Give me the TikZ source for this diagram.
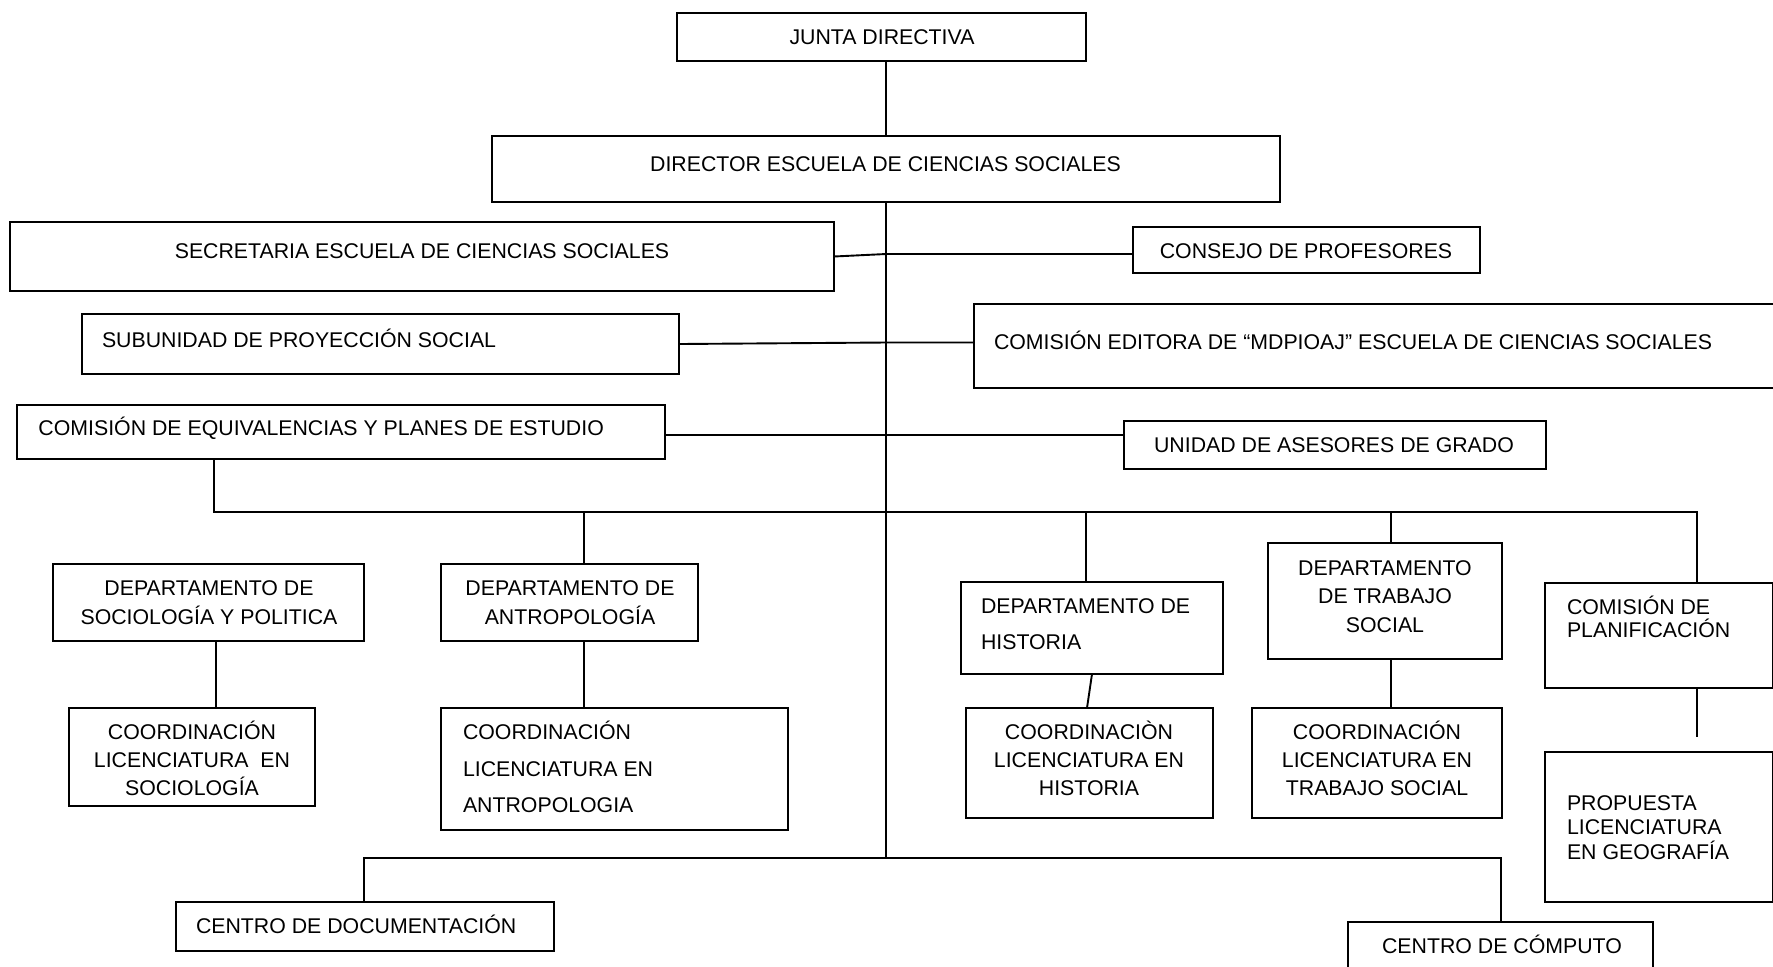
\documentclass[tikz,border=0pt]{standalone}
\usepackage{fontspec}
\setmainfont{Liberation Sans}
\newcommand\orgbox[5]{\node[box, minimum width={(#4-#2)*0.5pt}, minimum height={(#5-#3)*0.5pt}] (#1) at ({(#2+#4)/2},{(#3+#5)/2}) {};}
\newcommand\tline[4]{\node[txt, anchor=#1] (#2) at (#3) {#4};}
\begin{document}
\begin{tikzpicture}[x=0.5pt,y=-0.5pt,
  box/.style={draw=black, line width=1.4pt, inner sep=0pt, outer sep=0pt, fill=none},
  conn/.style={draw=black, line width=0.95pt},
  txt/.style={inner sep=0pt, outer sep=0pt, font=\fontsize{10.65}{12}\selectfont}]
\useasboundingbox (0,0) rectangle (1773,966);

% boxes
\orgbox{junta}{677}{13}{1086}{61}
\orgbox{director}{492}{136}{1280}{202}
\orgbox{secretaria}{10}{222}{834}{291}
\orgbox{consejo}{1133}{227}{1480}{273}
\orgbox{subunidad}{82}{314}{679}{374}
\orgbox{editora}{974}{304}{1810}{388}
\orgbox{equiv}{17}{405}{665}{459}
\orgbox{unidad}{1124}{421}{1546}{469}
\orgbox{dsoc}{53}{564}{364}{641}
\orgbox{dant}{441}{564}{698}{641}
\orgbox{csoc}{69}{708}{315}{806}
\orgbox{cant}{441}{708}{788}{830}
\orgbox{dhis}{961}{582}{1223}{674}
\orgbox{chis}{966}{708}{1213}{818}
\orgbox{dts}{1268}{543}{1502}{659}
\orgbox{cts}{1252}{708}{1502}{818}
\orgbox{cplan}{1545}{583}{1773}{688}
\orgbox{prop}{1545}{752}{1773}{902}
\orgbox{cdoc}{176}{902}{554}{951}
\orgbox{ccomp}{1348}{922}{1653}{1010}

% texts
\tline{base}{tJunta}{882,44}{JUNTA DIRECTIVA}
\tline{base}{tDirector}{885.5,171}{DIRECTOR ESCUELA DE CIENCIAS SOCIALES}
\tline{base}{tSecretaria}{422,258}{SECRETARIA ESCUELA DE CIENCIAS SOCIALES}
\tline{base}{tConsejo}{1306,258}{CONSEJO DE PROFESORES}
\tline{base west}{tSubunidad}{102,347}{SUBUNIDAD DE PROYECCIÓN SOCIAL}
\tline{base west}{tEditora}{994,349}{COMISIÓN EDITORA DE “MDPIOAJ” ESCUELA DE CIENCIAS SOCIALES}
\tline{base west}{tEquiv}{38.5,435}{COMISIÓN DE EQUIVALENCIAS Y PLANES DE ESTUDIO}
\tline{base}{tUnidad}{1334,452}{UNIDAD DE ASESORES DE GRADO}

\tline{base}{tDsocA}{209,595}{DEPARTAMENTO DE}
\tline{base}{tDsocB}{209,624}{SOCIOLOGÍA Y POLITICA}
\tline{base}{tDantA}{570,595}{DEPARTAMENTO DE}
\tline{base}{tDantB}{570,624}{ANTROPOLOGÍA}

\tline{base}{tCsocA}{192,739}{COORDINACIÓN}
\tline{base}{tCsocB}{192,767}{LICENCIATURA\ \ EN}
\tline{base}{tCsocC}{192,795}{SOCIOLOGÍA}

\tline{base west}{tCantA}{463,739}{COORDINACIÓN}
\tline{base west}{tCantB}{463,776}{LICENCIATURA EN}
\tline{base west}{tCantC}{463,812}{ANTROPOLOGIA}

\tline{base west}{tDhisA}{981,613}{DEPARTAMENTO DE}
\tline{base west}{tDhisB}{981,649}{HISTORIA}

\tline{base}{tChisA}{1089,739}{COORDINACIÒN}
\tline{base}{tChisB}{1089,767}{LICENCIATURA EN}
\tline{base}{tChisC}{1089,795}{HISTORIA}

\tline{base}{tDtsA}{1385,575}{DEPARTAMENTO}
\tline{base}{tDtsB}{1385,603}{DE TRABAJO}
\tline{base}{tDtsC}{1385,632}{SOCIAL}

\tline{base}{tCtsA}{1377,739}{COORDINACIÓN}
\tline{base}{tCtsB}{1377,767}{LICENCIATURA EN}
\tline{base}{tCtsC}{1377,795}{TRABAJO SOCIAL}

\tline{base west}{tCplanA}{1567,614}{COMISIÓN DE}
\tline{base west}{tCplanB}{1567,637}{PLANIFICACIÓN}

\tline{base west}{tPropA}{1567,810}{PROPUESTA}
\tline{base west}{tPropB}{1567,834}{LICENCIATURA}
\tline{base west}{tPropC}{1567,859}{EN GEOGRAFÍA}

\tline{base west}{tCdoc}{196,933}{CENTRO DE DOCUMENTACIÓN}
\tline{base}{tCcomp}{1502,953}{CENTRO DE CÓMPUTO}

% junction coordinates
\coordinate (j1) at (886,254);
\coordinate (j2) at (886,342.5);
\coordinate (j3) at (886,435);
\coordinate (b1l) at (214,512);
\coordinate (b1r) at (1697,512);
\coordinate (dAnt) at (584,512);
\coordinate (dHis) at (1086,512);
\coordinate (dTS) at (1391,512);
\coordinate (sx) at (216,600);
\coordinate (pend) at (1697,737);
\coordinate (b2) at (886,858);
\coordinate (b2l) at (364,858);
\coordinate (b2r) at (1501,858);

% connectors
\draw[conn] (director.north) -- (director.north |- junta.south);
\draw[conn] (director.south) -- (b2);
\draw[conn] (secretaria.east) -- (j1) -- (j1 -| consejo.west);
\draw[conn] (subunidad.east) -- (j2) -- (j2 -| editora.west);
\draw[conn] (j3 -| equiv.east) -- (j3) -- (j3 -| unidad.west);
\draw[conn] (b1l |- equiv.south) -- (b1l) -- (b1r) -- (b1r |- cplan.north);
\draw[conn] (dAnt) -- (dAnt |- dant.north);
\draw[conn] (dAnt |- dant.south) -- (dAnt |- cant.north);
\draw[conn] (dHis) -- (dHis |- dhis.north);
\draw[conn] (dhis.south) -- ([xshift=-1.25pt]chis.north);
\draw[conn] (dTS) -- (dTS |- dts.north);
\draw[conn] (dTS |- dts.south) -- (dTS |- cts.north);
\draw[conn] (sx |- dsoc.south) -- (sx |- csoc.north);
\draw[conn] (b1r |- cplan.south) -- (pend);
\draw[conn] (b2l |- cdoc.north) -- (b2l) -- (b2r) -- (b2r |- ccomp.north);
\end{tikzpicture}
\end{document}
